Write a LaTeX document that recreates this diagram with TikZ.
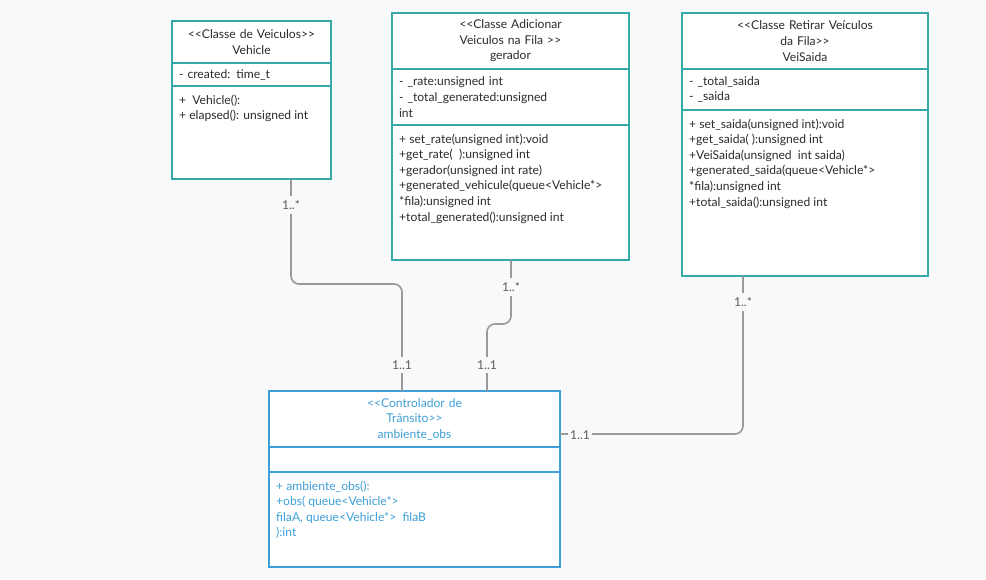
\documentclass[tikz,border=0pt]{standalone}
\usepackage{fontspec}
\setmainfont{Lato}
\usetikzlibrary{calc, positioning}

\definecolor{bgcol}{HTML}{F8F9FB}
\definecolor{umlteal}{HTML}{35A9A8}
\definecolor{umlblue}{HTML}{3E9FD8}
\definecolor{umltext}{HTML}{2B2B2B}
\definecolor{linegray}{HTML}{9A9A9C}
\definecolor{multgray}{HTML}{5A5A5A}

\newcommand{\umlfont}{\fontsize{12.1}{15.6}\selectfont}

\tikzset{
    umlpart/.style={draw=umlteal, line width=1.5pt, fill=white, outer sep=0pt, inner xsep=7pt, inner ysep=2pt, text=umltext, font=\umlfont, anchor=north west},
    umlhead/.style={umlpart, align=center},
    umlattr/.style={umlpart, align=left},
    umltext/.style={anchor=north west, inner xsep=7pt, inner ysep=8.5pt, align=left, text=umltext, font=\umlfont},
    ctrl/.style={draw=umlblue, text=umlblue},
    assoc/.style={draw=linegray, line width=1.6pt, rounded corners=8pt},
    mult/.style={fill=bgcol, text=multgray, font=\umlfont, inner xsep=2pt, inner ysep=4pt},
}

\begin{document}
\begin{tikzpicture}[x=1pt, y=-1pt]

    \fill[bgcol] (0,0) rectangle (986,579);
    \useasboundingbox (0,0) rectangle (986,579);

    % Nodes
    \node (vh) [umlhead, text width=145pt, minimum height=42pt] at (172,21) {<{}<Classe de Veiculos>{}>\\Vehicle};
    \node (va) [umlattr, below=0pt of vh, text width=145pt, minimum height=23pt] {- created: time\_t};
    \node (vm) [umlpart, below=0pt of va, minimum width=159pt, minimum height=93pt] {};
    \node (vmt) [umltext] at (vm.north west) {+\ \ Vehicle():\\+ elapsed(): unsigned int};

    \node (gh) [umlhead, text width=223pt, minimum height=56pt] at (392,13) {<{}<Classe Adicionar\\Veiculos na Fila >{}>\\gerador};
    \node (ga) [umlattr, below=0pt of gh, text width=223pt, minimum height=56pt] {- \_rate:unsigned int\\- \_total\_generated:unsigned\\int};
    \node (gm) [umlpart, below=0pt of ga, minimum width=237pt, minimum height=135pt] {};
    \node (gmt) [umltext] at (gm.north west) {+ set\_rate(unsigned int):void\\+get\_rate(\ \ ):unsigned int\\+gerador(unsigned int rate)\\+generated\_vehicule(queue<Vehicle*>\\*fila):unsigned int\\+total\_generated():unsigned int};

    \node (sh) [umlhead, text width=232pt, minimum height=56pt] at (682,13) {<{}<Classe Retirar Veículos\\da Fila>{}>\\VeiSaida};
    \node (sa) [umlattr, below=0pt of sh, text width=232pt, minimum height=41pt] {- \_total\_saida\\- \_saida};
    \node (sm) [umlpart, below=0pt of sa, minimum width=246pt, minimum height=166pt] {};
    \node (smt) [umltext] at (sm.north west) {+ set\_saida(unsigned int):void\\+get\_saida( ):unsigned int\\+VeiSaida(unsigned\ \ int saida)\\+generated\_saida(queue<Vehicle*>\\*fila):unsigned int\\+total\_saida():unsigned int};

    \node (ch) [umlhead, ctrl, text width=277pt, minimum height=56pt] at (269,391) {<{}<Controlador de\\Trânsito>{}>\\ambiente\_obs};
    \node (ca) [umlattr, ctrl, below=0pt of ch, text width=277pt, minimum height=25pt] {};
    \node (cm) [umlpart, ctrl, below=0pt of ca, minimum width=291pt, minimum height=95pt] {};
    \node (cmt) [umltext, text=umlblue] at (cm.north west) {+ ambiente\_obs():\\+obs( queue<Vehicle*>\\filaA, queue<Vehicle*>\ \ filaB\\):int};

    % Connectors
    \begin{scope}

        \draw [assoc] ([xshift=119pt]vm.south west) -- ++(0,105) -| ([xshift=133pt]ch.north west);
        \draw [assoc] ([xshift=119pt]gm.south west) -- ++(0,64) -| ([xshift=218pt]ch.north west);
        \draw [assoc] ([xshift=61pt]sm.south west) |- ([yshift=-43pt]ch.north east);

    \end{scope}

    % Multiplicities
    \node (m1) [mult] at (291,205) {1..*};
    \node (m2) [mult] at (402,365) {1..1};
    \node (m3) [mult] at (511,287) {1..*};
    \node (m4) [mult] at (487,365) {1..1};
    \node (m5) [mult] at (743,302) {1..*};
    \node (m6) [mult] at (580,435) {1..1};

\end{tikzpicture}
\end{document}
